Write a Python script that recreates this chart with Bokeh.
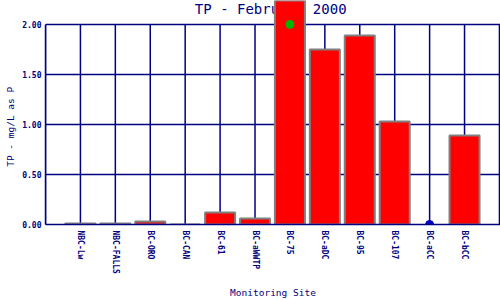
from bokeh.plotting import figure
from bokeh.models import Range1d, FixedTicker, ColumnDataSource
from bokeh.core.properties import value
from bokeh.embed import file_html
from bokeh.resources import INLINE

# ---- data ----
title_text = "TP - February 2000"
sites = ["NBC-Lw", "NBC-FALLS", "BC-ORO", "BC-CAN", "BC-61", "BC-aWWTP",
         "BC-75", "BC-aDC", "BC-95", "BC-107", "BC-aCC", "BC-bCC"]
tp_values = [0.01, 0.01, 0.03, 0.0, 0.12, 0.06, 2.5, 1.75, 1.89, 1.03, None, 0.89]
green_sites = ["BC-75"]
green_values = [2.0]
blue_sites = ["BC-aCC"]
blue_values = [0.0]
y_ticks = [0.0, 0.5, 1.0, 1.5, 2.0]
y_tick_labels = ["0.00", "0.50", "1.00", "1.50", "2.00"]
y_label = "TP - mg/L as P"
x_label = "Monitoring Site"

NAVY = "#000080"
MONO = "DejaVu Sans Mono"

pos = {s: i for i, s in enumerate(sites)}
n = len(sites)

# layout: 0 at y=225, 2.0 at y=24 -> frame from top (y=0)
frame_h = 225
px_per_unit = (225 - 24) / max(y_ticks)
y_end = frame_h / px_per_unit

p = figure(width=500, height=300, output_backend="svg", toolbar_location=None,
           x_range=Range1d(-1, n + 0.03), y_range=Range1d(0, y_end),
           min_border_left=45, min_border_right=0, min_border_top=0,
           min_border_bottom=75, outline_line_color=None,
           background_fill_color="white", border_fill_color="white")
p.title.visible = False

# horizontal grid
p.ygrid.ticker = FixedTicker(ticks=y_ticks)
p.ygrid.grid_line_color = NAVY
p.ygrid.grid_line_width = 1.5
p.xgrid.visible = False

# vertical grid lines (bounded to the tick range)
gx = list(range(-1, n + 1))
p.segment(x0=gx, x1=gx, y0=[min(y_ticks)] * len(gx), y1=[max(y_ticks)] * len(gx),
          line_color=NAVY, line_width=1.5)

# title (drawn as text so the tall bar can cover it)
p.text(x=[(n - 1) / 2 - 0.05], y=[y_end - 8.5 / px_per_unit], text=[title_text],
       text_font=value(MONO), text_font_size="14px", text_color=NAVY,
       text_align="center", text_baseline="middle")

# bars
bar_src = ColumnDataSource(dict(x=[pos[s] for s in sites],
                                top=[v if v is not None else float("nan") for v in tp_values]))
p.vbar(x="x", top="top", bottom=0, width=0.86, source=bar_src,
       fill_color="#ff0000", line_color="#808080", line_width=2)

# markers
p.scatter(x=[pos[s] for s in green_sites], y=green_values, size=8,
          fill_color="#00b400", line_color="#00b400")
p.scatter(x=[pos[s] for s in blue_sites], y=blue_values, size=8,
          fill_color="#0000c8", line_color="#0000c8")

# y axis (label padded with no-break spaces so it centres on the 0-2 span)
ya = p.yaxis[0]
ya.ticker = FixedTicker(ticks=y_ticks)
ya.major_label_overrides = {t: l for t, l in zip(y_ticks, y_tick_labels)}
ya.bounds = (min(y_ticks), max(y_ticks))
ya.axis_label = y_label + "\u00a0" * 5
ya.axis_label_text_font = MONO
ya.axis_label_text_font_size = "9.5px"
ya.axis_label_text_font_style = "normal"
ya.axis_label_text_color = NAVY
ya.axis_label_standoff = 3
ya.major_label_text_font = MONO
ya.major_label_text_font_size = "8px"
ya.major_label_text_font_style = "bold"
ya.major_label_text_color = NAVY
ya.major_label_standoff = 4
ya.major_tick_out = 0
ya.major_tick_in = 0
ya.minor_tick_line_color = None
ya.axis_line_color = NAVY
ya.axis_line_width = 1.5

# x axis
xa = p.xaxis[0]
xa.ticker = FixedTicker(ticks=list(range(n)))
xa.major_label_overrides = {i: s for i, s in enumerate(sites)}
xa.major_label_orientation = "vertical"
xa.axis_label = x_label
xa.axis_label_text_font = MONO
xa.axis_label_text_font_size = "9.5px"
xa.axis_label_text_font_style = "normal"
xa.axis_label_text_color = NAVY
xa.axis_label_standoff = 10
xa.major_label_text_font = MONO
xa.major_label_text_font_size = "8px"
xa.major_label_text_font_style = "bold"
xa.major_label_text_color = NAVY
xa.major_label_standoff = 6
xa.major_tick_out = 0
xa.major_tick_in = 0
xa.minor_tick_line_color = None
xa.axis_line_color = NAVY
xa.axis_line_width = 1.5

open("out.html", "w").write(file_html(p, INLINE))
